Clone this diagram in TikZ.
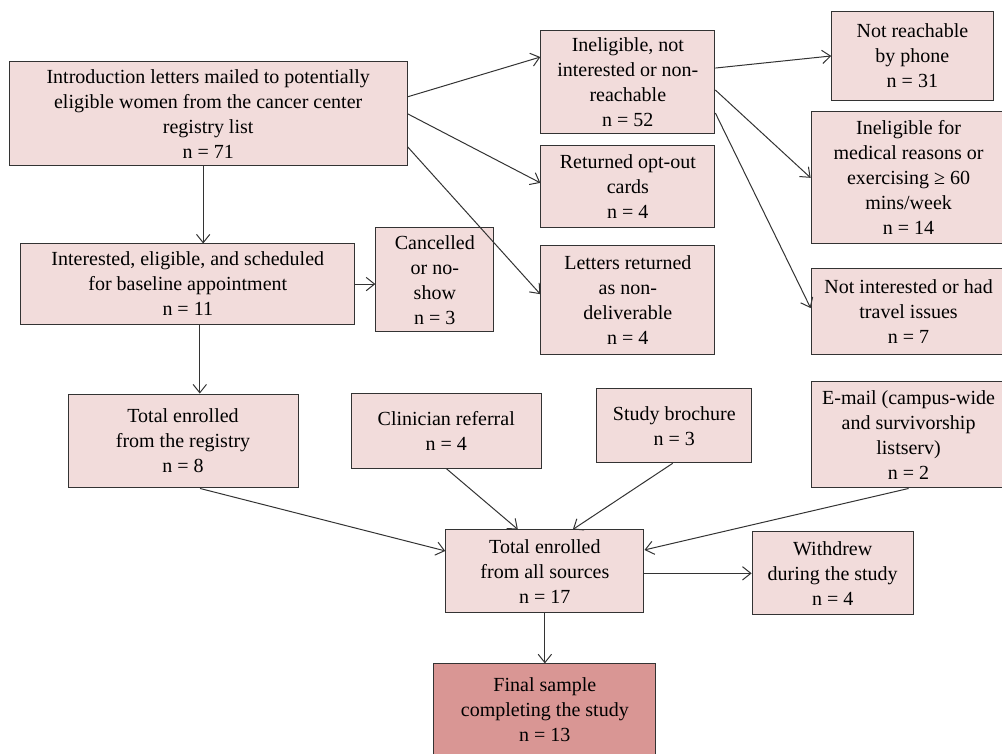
\documentclass[tikz,border=0pt]{standalone}
\usepackage{fontspec}
\setmainfont{Liberation Serif}
\usepackage{xcolor}
\usepackage{tikz}
\usetikzlibrary{shapes.geometric, arrows.meta}
\definecolor{lpink}{HTML}{F2DCDB}
\definecolor{dpink}{HTML}{D99694}
\definecolor{edge}{HTML}{333333}
\tikzstyle{process} = [rectangle, 
align=center, 
inner sep=1pt, 
draw=edge, 
line width=0.6pt, 
font=\fontsize{12pt}{15pt}\selectfont, 
fill=lpink!100]
\tikzstyle{final} = [process, 
fill=dpink!100]
\tikzstyle{arrow} = [line width=0.6pt, draw=edge, ->, >={Straight Barb[length=5pt,width=8pt]}]

\begin{document}
\begin{tikzpicture}[node distance=2cm]
\useasboundingbox (0,0) rectangle (21.13,-15.90);
\node (intro) [process, minimum width=8.39cm, minimum height=2.19cm, xshift=4.39cm, yshift=-2.40cm] {Introduction letters mailed to potentially\\eligible women from the cancer center\\registry list\\n = 71};
\node (inter) [process, minimum width=7.04cm, minimum height=1.69cm, below of=intro, xshift=-0.43cm, yshift=-1.59cm] {Interested, eligible, and scheduled\\for baseline appointment\\n = 11};
\node (cancel) [process, minimum width=2.49cm, minimum height=2.19cm, right of=inter, xshift=3.21cm, yshift=0.09cm] {Cancelled\\or no-\\show\\n = 3};
\node (registry) [process, minimum width=4.85cm, minimum height=1.98cm, below of=inter, xshift=-0.10cm, yshift=-1.31cm] {Total enrolled\\from the registry\\n = 8};
\node (inelig) [process, minimum width=3.67cm, minimum height=2.19cm, xshift=13.24cm, yshift=-1.73cm] {Ineligible, not\\interested or non-\\reachable\\n = 52};
\node (optout) [process, minimum width=3.67cm, minimum height=1.73cm, below of=inelig, yshift=-0.21cm] {Returned opt-out\\cards\\n = 4};
\node (letters) [process, minimum width=3.67cm, minimum height=2.30cm, below of=optout, yshift=-0.38cm] {Letters returned\\as non-\\deliverable\\n = 4};
\node (noreach) [process, minimum width=3.40cm, minimum height=1.86cm, xshift=19.24cm, yshift=-1.18cm] {Not reachable\\by phone\\n = 31};
\node (medical) [process, minimum width=4.11cm, minimum height=2.78cm, xshift=19.16cm, yshift=-3.75cm] {Ineligible for\\medical reasons or\\exercising ≥ 60\\mins/week\\n = 14};
\node (notint) [process, minimum width=4.11cm, minimum height=1.81cm, below of=medical, yshift=-0.81cm] {Not interested or had\\travel issues\\n = 7};
\node (email) [process, minimum width=4.11cm, minimum height=2.24cm, below of=notint, yshift=-0.61cm] {E-mail (campus-wide\\and survivorship\\listserv)\\n = 2};
\node (clinic) [process, minimum width=4.01cm, minimum height=1.58cm, xshift=9.41cm, yshift=-9.08cm] {Clinician referral\\n = 4};
\node (brochure) [process, minimum width=3.27cm, minimum height=1.56cm, xshift=14.22cm, yshift=-8.98cm] {Study brochure\\n = 3};
\node (total) [process, minimum width=4.18cm, minimum height=1.75cm, xshift=11.49cm, yshift=-12.05cm] {Total enrolled\\from all sources\\n = 17};
\node (withdrew) [process, minimum width=3.40cm, minimum height=1.75cm, right of=total, xshift=4.07cm, yshift=-0.04cm] {Withdrew\\during the study\\n = 4};
\node (final) [final, minimum width=4.68cm, minimum height=1.94cm, below of=total, yshift=-0.92cm] {Final sample\\completing the study\\n = 13};

\draw [arrow] ([xshift=-3pt]intro.south) -- ([xshift=-3pt]intro.south |- inter.north);
\draw [arrow] (inter.east) -- (inter.east -| cancel.west);
\draw [arrow] ([xshift=7.2pt]inter.south) -- ([xshift=7.2pt]inter.south |- registry.north);
\draw [arrow] ([yshift=10.2pt]intro.east) -- ([yshift=15pt]inelig.west);
\draw [arrow] (intro.east) -- ([yshift=2.4pt]optout.west);
\draw [arrow] ([yshift=-19.8pt]intro.east) -- ([yshift=3.3pt]letters.west);
\draw [arrow] ([yshift=8.4pt]inelig.east) -- (noreach.west);
\draw [arrow] ([yshift=-4.8pt]inelig.east) -- (medical.west);
\draw [arrow] ([yshift=-18.6pt]inelig.east) -- ([yshift=1.8pt]notint.west);
\draw [arrow] ([xshift=10.2pt]registry.south) -- ([yshift=12.3pt]total.west);
\draw [arrow] (clinic.south) -- ([xshift=-16.2pt]total.north);
\draw [arrow] ([xshift=-1pt]brochure.south) -- ([xshift=16.8pt]total.north);
\draw [arrow] (email.south) -- ([yshift=12.9pt]total.east);
\draw [arrow] (total.east |- withdrew.west) -- (withdrew.west);
\draw [arrow] (total) -- (final);

\end{tikzpicture}
\end{document}
